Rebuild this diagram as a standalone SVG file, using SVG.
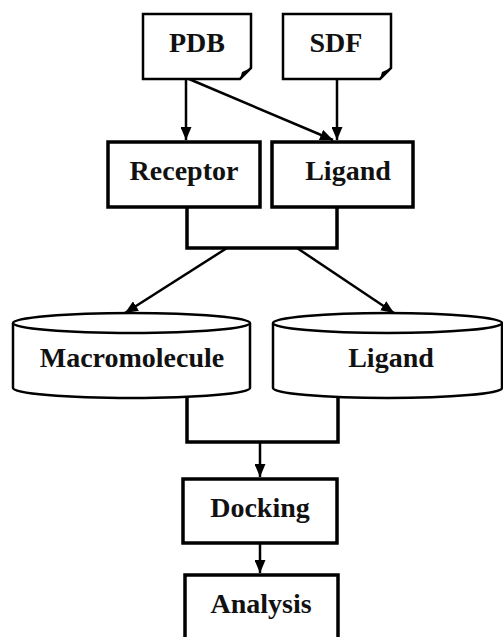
<svg xmlns="http://www.w3.org/2000/svg" width="503" height="637" viewBox="0 0 503 637">
<style>
text{font-family:"Liberation Serif","DejaVu Serif","Times New Roman",serif;font-weight:bold;font-size:28px;text-anchor:middle;fill:#111}
.box{fill:#fff;stroke:#000;stroke-width:3.5}
.doc{fill:#fff;stroke:#000;stroke-width:2.5}
.cyl{fill:#fff;stroke:#000;stroke-width:2.5}
.ln{fill:none;stroke:#000;stroke-width:2.5}
.ln3{fill:none;stroke:#000;stroke-width:3.5}
</style>
<defs>
<marker id="ah" viewBox="0 0 13 11" refX="13" refY="5.5" markerWidth="13" markerHeight="11" markerUnits="userSpaceOnUse" orient="auto">
<path d="M0,0 L13,5.5 L0,11 z" fill="#000"/>
</marker>
</defs>
<rect width="503" height="637" fill="#fff"/>
<g id="pdb">
<path class="doc" d="M143,14 H251 V68 L240,79 H143 Z"/>
<path d="M240,79 L242,72 L251,68 Z" fill="#000"/>
<text x="197" y="52">PDB</text>
</g>
<g id="sdf">
<path class="doc" d="M283,14 H391 V68 L380,79 H283 Z"/>
<path d="M380,79 L382,72 L391,68 Z" fill="#000"/>
<text x="336" y="52">SDF</text>
</g>
<g id="receptor">
<rect class="box" x="108" y="142" width="152" height="65"/>
<text x="184" y="180">Receptor</text>
</g>
<g id="ligand1">
<rect class="box" x="272" y="142" width="141" height="65"/>
<text x="348" y="180">Ligand</text>
</g>
<g id="macromolecule">
<path class="cyl" d="M13,323 A118.5,10 0 0 1 250,323 V388 A118.5,10 0 0 1 13,388 Z"/>
<path class="cyl" d="M13,323 A118.5,10 0 0 0 250,323"/>
<text x="132" y="367">Macromolecule</text>
</g>
<g id="ligand2">
<path class="cyl" d="M273,323 A114.5,10 0 0 1 502,323 V388 A114.5,10 0 0 1 273,388 Z"/>
<path class="cyl" d="M273,323 A114.5,10 0 0 0 502,323"/>
<text x="391" y="367">Ligand</text>
</g>
<g id="docking">
<rect class="box" x="183" y="479" width="154" height="64"/>
<text x="260" y="517">Docking</text>
</g>
<g id="analysis">
<rect class="box" x="185" y="575" width="153" height="70"/>
<text x="261" y="613">Analysis</text>
</g>
<g id="connectors">
<line class="ln" x1="186" y1="79" x2="186" y2="140" marker-end="url(#ah)"/>
<line class="ln" x1="189" y1="79" x2="333" y2="140" marker-end="url(#ah)"/>
<line class="ln" x1="337" y1="79" x2="337" y2="140" marker-end="url(#ah)"/>
<path class="ln3" d="M187,207 V248 H337 V207"/>
<line class="ln" x1="227" y1="248" x2="125" y2="313" marker-end="url(#ah)"/>
<line class="ln" x1="297" y1="248" x2="394" y2="313" marker-end="url(#ah)"/>
<path class="ln3" d="M187,398 V442 H338 V398"/>
<line class="ln" x1="260" y1="442" x2="260" y2="477" marker-end="url(#ah)"/>
<line class="ln" x1="260" y1="543" x2="260" y2="573" marker-end="url(#ah)"/>
</g>
</svg>
